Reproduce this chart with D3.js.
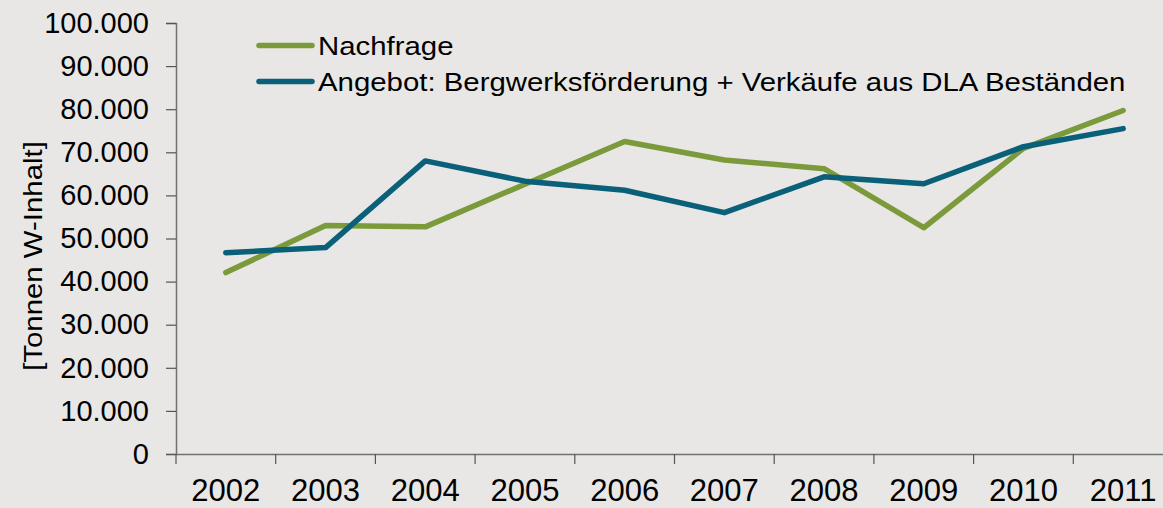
<!DOCTYPE html>
<html><head><meta charset="utf-8">
<script src="https://cdn.jsdelivr.net/npm/d3@7"></script>
<style>
body{margin:0;background:#e8e7e5;}
svg{display:block;font-family:"Liberation Sans",Arial,sans-serif;}
</style></head><body>
<script>
const years = ["2002","2003","2004","2005","2006","2007","2008","2009","2010","2011"];
const nachfrage = [42100, 53000, 52700, 62600, 72500, 68200, 66200, 52500, 70900, 79700];
const angebot = [46700, 47900, 68000, 63300, 61200, 56000, 64300, 62700, 71300, 75500];
const yTicks = [0,10000,20000,30000,40000,50000,60000,70000,80000,90000,100000];
const seriesNames = ["Nachfrage","Angebot: Bergwerksförderung + Verkäufe aus DLA Beständen"];
const colors = ["#7b9a3c","#0a6079"];

const W=1163,H=508;
const svg=d3.select("body").append("svg").attr("width",W).attr("height",H);
svg.append("rect").attr("width",W).attr("height",H).attr("fill","#e8e7e5");

const x=d3.scaleBand().domain(years).range([176,1173]);
const y=d3.scaleLinear().domain([0,100000]).range([454,23]);
const fmt=d=>d===0?"0":d3.format(",")(d).replace(/,/g,".");

const gy=svg.append("g").attr("transform","translate(176,0)")
 .call(d3.axisLeft(y).tickValues(yTicks).tickFormat(fmt).tickSize(10).tickPadding(17));
const gx=svg.append("g").attr("transform","translate(0,454)")
 .call(d3.axisBottom(x).tickSize(0).tickPadding(25));
gx.selectAll(".bt").data(years).enter().append("line").attr("class","bt")
 .attr("x1",d=>x(d)).attr("x2",d=>x(d)).attr("y1",0).attr("y2",10);
[gx,gy].forEach(g=>{
 g.select(".domain").attr("stroke","#707070").attr("stroke-width",1.5);
 g.selectAll("line").attr("stroke","#555").attr("stroke-width",1.2);
 g.selectAll("text").attr("fill","#000").attr("font-family","Liberation Sans, Arial, sans-serif");
});
gy.selectAll("text").attr("font-size",29);
gx.selectAll("text").attr("font-size",31);

const sx=1.13;
svg.append("text").attr("transform","translate(42,256) rotate(-90) scale("+sx+",1)")
 .attr("text-anchor","middle").attr("font-size",26).attr("fill","#000").text("[Tonnen W-Inhalt]");

const line=d3.line().x((d,i)=>x(years[i])+x.bandwidth()/2).y(d=>y(d));
[nachfrage,angebot].forEach((s,i)=>{
 svg.append("path").datum(s).attr("d",line).attr("fill","none")
  .attr("stroke",colors[i]).attr("stroke-width",5.5).attr("stroke-linejoin","round").attr("stroke-linecap","round");
});

seriesNames.forEach((n,i)=>{
 const ly=45.5+i*36;
 svg.append("line").attr("x1",259).attr("x2",312).attr("y1",ly).attr("y2",ly)
  .attr("stroke",colors[i]).attr("stroke-width",5.5).attr("stroke-linecap","round");
 svg.append("text").attr("transform","translate(318,"+(ly+9.5)+") scale("+sx+",1)")
  .attr("font-size",26).attr("fill","#000").text(n);
});
</script></body></html>
